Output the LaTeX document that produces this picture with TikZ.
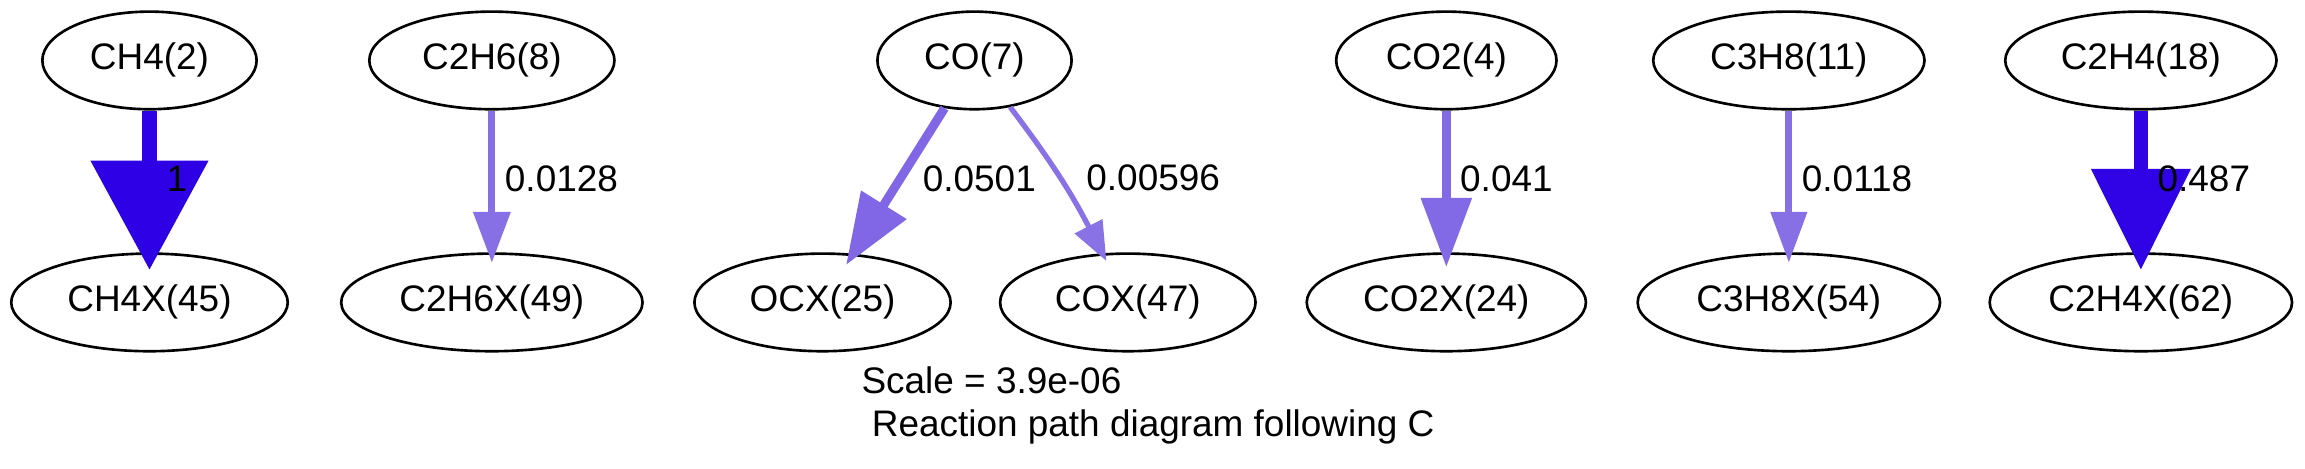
\documentclass[tikz,border=0pt]{standalone}
\usepackage{fontspec}
\setmainfont{Liberation Sans}
\usetikzlibrary{arrows.meta,positioning,shapes.geometric}

\definecolor{fluxA}{RGB}{46,0,230}
\definecolor{fluxB}{RGB}{48,3,230}
\definecolor{fluxC}{RGB}{129,103,230}
\definecolor{fluxD}{RGB}{130,105,230}
\definecolor{fluxE}{RGB}{135,112,230}
\definecolor{fluxF}{RGB}{137,113,230}

\begin{document}
\begin{tikzpicture}[on grid, node distance=91.7pt, font=\fontsize{14}{16.3}\selectfont,
    sp/.style={ellipse, draw, line width=1pt, inner sep=0pt, minimum height=37pt},
    lbl/.style={anchor=west, inner xsep=3.6pt, inner ysep=0pt, yshift=1pt},
    flow/.style n args={4}{draw=#1, line width=#2, -{Triangle[length=#3, width=#4]}},
    legend/.style={anchor=base west, inner sep=0pt}]
    \useasboundingbox (0,0) rectangle (873.5pt,177.7pt);

    \node[sp, minimum width=81.2pt] (ch4) at (56.65pt,154.8pt) {CH4(2)};
    \node[sp, minimum width=104.8pt] (ch4x) [below=of ch4] {CH4X(45)};
    \node[sp, minimum width=92.9pt] (c2h6) [right=129.75pt of ch4] {C2H6(8)};
    \node[sp, minimum width=114.2pt] (c2h6x) [below=of c2h6] {C2H6X(49)};
    \node[sp, minimum width=73.6pt] (co) [right=182.9pt of c2h6] {CO(7)};
    \node[sp, minimum width=97.1pt] (ocx) [below left=91.7pt and 57.6pt of co] {OCX(25)};
    \node[sp, minimum width=96.8pt] (cox) [below right=91.7pt and 58.1pt of co] {COX(47)};
    \node[sp, minimum width=83.5pt] (co2) [right=178.8pt of co] {CO2(4)};
    \node[sp, minimum width=105.8pt] (co2x) [below=of co2] {CO2X(24)};
    \node[sp, minimum width=102.8pt] (c3h8) [right=129.8pt of co2] {C3H8(11)};
    \node[sp, minimum width=114.6pt] (c3h8x) [below=of c3h8] {C3H8X(54)};
    \node[sp, minimum width=102.8pt] (c2h4) [right=133.4pt of c3h8] {C2H4(18)};
    \node[sp, minimum width=114.6pt] (c2h4x) [below=of c2h4] {C2H4X(62)};

    \path
    (ch4) edge [flow={fluxA}{5.7pt}{41.4pt}{43.2pt}, shorten >=-6.7pt] node[lbl] {1} (ch4x)
    (c2h6) edge [flow={fluxE}{2.7pt}{19.3pt}{13.6pt}, shorten >=-4pt] node[lbl] {0.0128} (c2h6x)
    (co) edge [flow={fluxC}{3.4pt}{26.9pt}{19.5pt}, shorten >=-5pt] node[lbl, inner xsep=7.4pt] {0.0501} (ocx)
    (co) edge [flow={fluxF}{2pt}{14.8pt}{11.4pt}, bend left=5, shorten >=-3.3pt] node[lbl, inner xsep=9pt, yshift=-1pt] {0.00596} (cox)
    (co2) edge [flow={fluxD}{3.3pt}{26.2pt}{18.6pt}, shorten >=-5.6pt] node[lbl] {0.041} (co2x)
    (c3h8) edge [flow={fluxE}{2.7pt}{19.3pt}{13.3pt}, shorten >=-4pt] node[lbl] {0.0118} (c3h8x)
    (c2h4) edge [flow={fluxB}{5.5pt}{38.3pt}{36.4pt}, shorten >=-6.7pt] node[lbl] {0.487} (c2h4x);

    \node[legend] (scale) at (326.3pt,28.4pt) {Scale = 3.9e-06};
    \node[legend] (title) at (326.3pt,12.1pt) {\ Reaction path diagram following C};
\end{tikzpicture}
\end{document}
